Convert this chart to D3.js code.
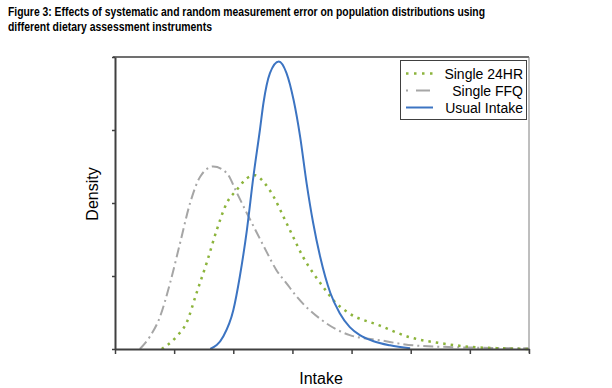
<!DOCTYPE html>
<html>
<head>
<meta charset="utf-8">
<script src="https://cdn.jsdelivr.net/npm/d3@7"></script>
<style>
  body { margin: 0; background: #fff; }
  svg { display: block; }
</style>
</head>
<body>
<div id="chart"></div>
<script>
// values, x in tick units (0..7), y in tick units (0..4)
var usualX = [1.61, 1.83, 2.00, 2.11, 2.23, 2.34, 2.45, 2.51, 2.62, 2.77, 2.90, 3.02, 3.13, 3.24, 3.35, 3.47, 3.64, 3.80, 3.97, 4.14, 4.36, 4.65, 4.99];
var usualY = [0, 0.17, 0.53, 0.99, 1.63, 2.36, 3.00, 3.37, 3.78, 3.94, 3.78, 3.41, 2.91, 2.27, 1.73, 1.26, 0.77, 0.49, 0.30, 0.19, 0.11, 0.05, 0.01];

var hrX = [0.79, 1.04, 1.21, 1.38, 1.55, 1.72, 1.89, 2.06, 2.23, 2.37, 2.51, 2.68, 2.85, 3.01, 3.18, 3.35, 3.52, 3.69, 3.92, 4.48, 4.99, 5.50, 6.00, 6.51, 7.00];
var hrY = [0, 0.17, 0.36, 0.77, 1.18, 1.63, 2.00, 2.18, 2.34, 2.38, 2.29, 2.09, 1.81, 1.54, 1.26, 1.04, 0.85, 0.67, 0.51, 0.32, 0.16, 0.08, 0.03, 0.01, 0];

var ffqX = [0.42, 0.59, 0.76, 0.93, 1.10, 1.27, 1.44, 1.66, 1.89, 2.06, 2.23, 2.40, 2.57, 2.73, 2.90, 3.07, 3.49, 3.97, 4.48, 5.04, 6.00, 7.00];
var ffqY = [0, 0.17, 0.44, 0.90, 1.45, 2.00, 2.36, 2.50, 2.41, 2.14, 1.86, 1.59, 1.32, 1.08, 0.90, 0.72, 0.40, 0.19, 0.12, 0.05, 0.02, 0.01];

var seriesNames = ["Single 24HR", "Single FFQ", "Usual Intake"];
var xTicks = [0, 1, 2, 3, 4, 5, 6, 7];
var yTicks = [0, 1, 2, 3, 4];

function init() {
    var w = 612, h = 388;
    var left = 115, right = 529, top = 57, bottom = 349;

    var x = d3.scaleLinear().domain([0, 7]).range([left, right]);
    var y = d3.scaleLinear().domain([0, 4]).range([bottom, top]);

    var svg = d3.select("#chart").append("svg")
        .attr("width", w)
        .attr("height", h);

    // title
    var title = svg.append("g")
        .attr("font-family", "'Liberation Sans Narrow', 'Liberation Sans', Arial, sans-serif")
        .attr("font-weight", "bold")
        .attr("font-size", 13)
        .attr("fill", "#000");
    title.append("text").attr("x", 8).attr("y", 16)
        .attr("textLength", 477).attr("lengthAdjust", "spacingAndGlyphs")
        .text("Figure 3: Effects of systematic and random measurement error on population distributions using");
    title.append("text").attr("x", 8).attr("y", 31)
        .attr("textLength", 204).attr("lengthAdjust", "spacingAndGlyphs")
        .text("different dietary assessment instruments");

    // frame: top and right
    svg.append("line")
        .attr("x1", left - 2).attr("x2", right)
        .attr("y1", top).attr("y2", top)
        .attr("stroke", "#404040").attr("stroke-width", 1.5);
    svg.append("line")
        .attr("x1", right).attr("x2", right)
        .attr("y1", top).attr("y2", bottom + 4)
        .attr("stroke", "#7f7f7f").attr("stroke-width", 1);

    var lineFor = function(xs, ys) {
        return d3.line()
            .x(function(d, i) { return x(xs[i]); })
            .y(function(d, i) { return y(ys[i]); })
            .curve(d3.curveMonotoneX)(xs);
    };

    svg.append("path")
        .attr("d", lineFor(ffqX, ffqY))
        .attr("fill", "none")
        .attr("stroke", "#a6a6a6")
        .attr("stroke-width", 2)
        .attr("stroke-dasharray", "10,4,2,4");

    svg.append("path")
        .attr("d", lineFor(hrX, hrY))
        .attr("fill", "none")
        .attr("stroke", "#8cb43c")
        .attr("stroke-width", 2.5)
        .attr("stroke-dasharray", "2.5,5");

    svg.append("path")
        .attr("d", lineFor(usualX, usualY))
        .attr("fill", "none")
        .attr("stroke", "#3c74c2")
        .attr("stroke-width", 2);

    // axes
    var xAxis = svg.append("g")
        .attr("transform", "translate(0," + bottom + ")")
        .call(d3.axisBottom(x).tickValues(xTicks).tickSize(5).tickSizeOuter(0).tickFormat(""));
    var yAxis = svg.append("g")
        .attr("transform", "translate(" + left + ",0)")
        .call(d3.axisLeft(y).tickValues(yTicks).tickSize(3).tickSizeOuter(0).tickFormat(""));
    [xAxis, yAxis].forEach(function(a) {
        a.select(".domain").attr("stroke", "#404040").attr("stroke-width", 2);
        a.selectAll(".tick line").attr("stroke", "#404040").attr("stroke-width", 1.5);
    });

    // axis titles
    svg.append("text")
        .attr("x", 321).attr("y", 384)
        .attr("text-anchor", "middle")
        .attr("font-family", "'Liberation Sans', Arial, sans-serif")
        .attr("font-size", 16)
        .text("Intake");
    svg.append("text")
        .attr("transform", "translate(98,194) rotate(-90)")
        .attr("text-anchor", "middle")
        .attr("font-family", "'Liberation Sans', Arial, sans-serif")
        .attr("font-size", 16)
        .text("Density");

    // legend
    var lg = svg.append("g");
    lg.append("rect")
        .attr("x", 400.5).attr("y", 60.5)
        .attr("width", 126).attr("height", 59)
        .attr("fill", "#fff")
        .attr("stroke", "#404040").attr("stroke-width", 1);
    var styles = [
        { color: "#8cb43c", dash: "2.5,5.5", wd: 2.5 },
        { color: "#a6a6a6", dash: "2,8,12,0", wd: 2 },
        { color: "#3c74c2", dash: null, wd: 2 }
    ];
    seriesNames.forEach(function(name, i) {
        var yy = 73.5 + i * 17;
        lg.append("line")
            .attr("x1", 406).attr("x2", 433)
            .attr("y1", yy).attr("y2", yy)
            .attr("stroke", styles[i].color)
            .attr("stroke-width", styles[i].wd)
            .attr("stroke-dasharray", styles[i].dash);
        lg.append("text")
            .attr("x", 523).attr("y", yy + 5)
            .attr("text-anchor", "end")
            .attr("font-family", "'Liberation Sans', Arial, sans-serif")
            .attr("font-size", 14)
            .text(name);
    });
}

window.onload = init;
</script>
</body>
</html>
